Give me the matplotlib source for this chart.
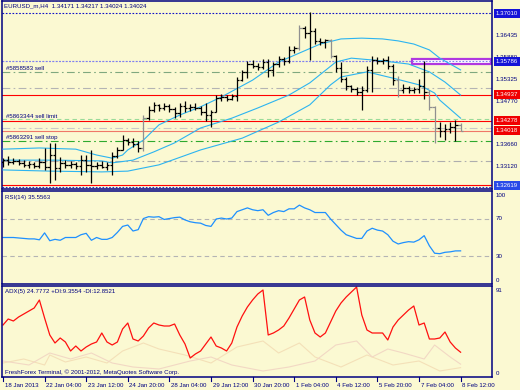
import matplotlib
matplotlib.use('Agg')
import matplotlib.pyplot as plt
from matplotlib.patches import Rectangle
import numpy as np

W, H = 520, 390
BG = '#FBF9D2'
NAVY = '#000080'
FONT = 'Liberation Sans'
FS = 4.4

title_text = "EURUSD_m,H4  1.34171 1.34217 1.34024 1.34024"

bar_open = [1.3322, 1.3327, 1.3322, 1.3325, 1.3320, 1.3315, 1.3317, 1.3312, 1.3322, 1.3310,
            1.3340, 1.3307, 1.3320, 1.3315, 1.3317, 1.3312, 1.3327, 1.3315, 1.3312, 1.3315,
            1.3310, 1.3315, 1.3338, 1.3353, 1.3378, 1.3373, 1.3368, 1.3358, 1.3434, 1.3455,
            1.3468, 1.3460, 1.3465, 1.3457, 1.3447, 1.3465, 1.3460, 1.3463, 1.3460, 1.3450,
            1.3442, 1.3450, 1.3485, 1.3488, 1.3483, 1.3491, 1.3531, 1.3552, 1.3572, 1.3567,
            1.3565, 1.3577, 1.3557, 1.3572, 1.3585, 1.3580, 1.3608, 1.3613, 1.3664, 1.3651,
            1.3656, 1.3631, 1.3628, 1.3633, 1.3593, 1.3562, 1.3534, 1.3516, 1.3508, 1.3501,
            1.3506, 1.3557, 1.3582, 1.3580, 1.3582, 1.3567, 1.3531, 1.3506, 1.3511, 1.3506,
            1.3508, 1.3516, 1.3501, 1.3463, 1.3409, 1.3401, 1.3406, 1.3412, 1.34171]
bar_high = [1.3332, 1.3338, 1.3332, 1.3330, 1.3327, 1.3325, 1.3322, 1.3332, 1.3358, 1.3371,
            1.3371, 1.3335, 1.3327, 1.3325, 1.3322, 1.3340, 1.3340, 1.3353, 1.3322, 1.3325,
            1.3322, 1.3348, 1.3361, 1.3391, 1.3383, 1.3383, 1.3376, 1.3442, 1.3465, 1.3475,
            1.3470, 1.3473, 1.3470, 1.3463, 1.3473, 1.3478, 1.3470, 1.3473, 1.3465, 1.3473,
            1.3455, 1.3493, 1.3496, 1.3493, 1.3496, 1.3539, 1.3557, 1.3580, 1.3582, 1.3575,
            1.3585, 1.3585, 1.3577, 1.3593, 1.3590, 1.3618, 1.3618, 1.3672, 1.3669, 1.3704,
            1.3664, 1.3638, 1.3636, 1.3636, 1.3595, 1.3577, 1.3539, 1.3519, 1.3514, 1.3516,
            1.3567, 1.3593, 1.3590, 1.3587, 1.3593, 1.3572, 1.3541, 1.3521, 1.3516, 1.3514,
            1.3534, 1.3580, 1.3506, 1.3465, 1.3424, 1.3419, 1.3424, 1.3429, 1.34217]
bar_low = [1.3310, 1.3315, 1.3317, 1.3315, 1.3310, 1.3307, 1.3307, 1.3307, 1.3302, 1.3269,
           1.3276, 1.3297, 1.3307, 1.3307, 1.3304, 1.3289, 1.3297, 1.3269, 1.3304, 1.3307,
           1.3302, 1.3289, 1.3332, 1.3353, 1.3366, 1.3361, 1.3348, 1.3350, 1.3429, 1.3450,
           1.3452, 1.3455, 1.3450, 1.3434, 1.3437, 1.3450, 1.3452, 1.3455, 1.3442, 1.3427,
           1.3412, 1.3450, 1.3478, 1.3478, 1.3480, 1.3478, 1.3529, 1.3536, 1.3562, 1.3557,
           1.3559, 1.3539, 1.3541, 1.3565, 1.3570, 1.3575, 1.3600, 1.3608, 1.3638, 1.3582,
           1.3623, 1.3621, 1.3613, 1.3587, 1.3552, 1.3526, 1.3506, 1.3501, 1.3493, 1.3455,
           1.3501, 1.3501, 1.3572, 1.3572, 1.3559, 1.3519, 1.3488, 1.3498, 1.3498, 1.3498,
           1.3498, 1.3483, 1.3455, 1.3371, 1.3386, 1.3378, 1.3396, 1.3376, 1.34024]
bar_close = [1.3327, 1.3322, 1.3325, 1.3320, 1.3315, 1.3317, 1.3312, 1.3322, 1.3310, 1.3340,
             1.3307, 1.3320, 1.3315, 1.3317, 1.3312, 1.3327, 1.3315, 1.3312, 1.3315, 1.3310,
             1.3315, 1.3338, 1.3353, 1.3378, 1.3373, 1.3368, 1.3358, 1.3434, 1.3455, 1.3468,
             1.3460, 1.3465, 1.3457, 1.3447, 1.3465, 1.3460, 1.3463, 1.3460, 1.3450, 1.3442,
             1.3450, 1.3485, 1.3488, 1.3483, 1.3491, 1.3531, 1.3552, 1.3572, 1.3567, 1.3565,
             1.3577, 1.3557, 1.3572, 1.3585, 1.3580, 1.3608, 1.3613, 1.3664, 1.3651, 1.3656,
             1.3631, 1.3628, 1.3633, 1.3593, 1.3562, 1.3534, 1.3516, 1.3508, 1.3501, 1.3506,
             1.3557, 1.3582, 1.3580, 1.3582, 1.3567, 1.3531, 1.3506, 1.3511, 1.3506, 1.3508,
             1.3516, 1.3501, 1.3463, 1.3409, 1.3401, 1.3406, 1.3412, 1.3417, 1.34024]
grey_bars = [27, 57, 63, 76, 82, 83, 88]

# band lines (vertices at bar index)
upper_idx = [0, 7, 14, 18, 21, 23, 24, 27, 30, 34, 38, 42, 48, 53, 57, 61, 65, 69, 73, 76, 79, 82, 84, 88]
upper_val = [1.3355, 1.3358, 1.3355, 1.3340, 1.3332, 1.3340, 1.3353, 1.3378, 1.3417, 1.3442, 1.3463, 1.3488,
             1.3531, 1.3577, 1.3600, 1.3623, 1.3636, 1.3638, 1.3636, 1.3631, 1.3623, 1.3608, 1.3587, 1.3557]
middle_idx = [0, 10, 19, 21, 25, 29, 33, 38, 44, 49, 55, 59, 64, 67, 73, 78, 82, 85, 88]
middle_val = [1.3327, 1.3327, 1.3325, 1.3320, 1.3327, 1.3348, 1.3371, 1.3409, 1.3434, 1.3460, 1.3493, 1.3524,
              1.3577, 1.3587, 1.3580, 1.3572, 1.3552, 1.3526, 1.3493]
lower_idx = [0, 9, 19, 24, 30, 38, 46, 53, 59, 63, 65, 70, 75, 80, 83, 84, 88]
lower_val = [1.3302, 1.3299, 1.3297, 1.3299, 1.3315, 1.3353, 1.3383, 1.3424, 1.3468, 1.3519, 1.3539, 1.3552,
             1.3536, 1.3519, 1.3498, 1.3480, 1.3434]

# horizontal order / level lines
level_prices = [1.37010, 1.35786, 1.35517, 1.35109, 1.34937, 1.34319, 1.34278, 1.34090, 1.34018,
                1.33758, 1.33248, 1.32630, 1.32580]
level_colors = ['#1010C8', '#8080F0', '#7FA87F', '#B4B4B4', '#FF0000', '#9ADB9A', '#FF0000', '#C8C8C8',
                '#F07868', '#2EAA2E', '#AEAEAE', '#FF0000', '#2030D0']
level_styles = [(0, (1.5, 1.5)), (0, (1.5, 1.5)), (0, (7, 3, 1.5, 3)), (0, (7, 3, 1.5, 3)), '-',
                (0, (4, 3)), '-', (0, (7, 3, 1.5, 3)), '-', (0, (7, 3, 1.5, 3)), (0, (7, 3, 1.5, 3)),
                '-', (0, (1.5, 1.5))]
order_labels = ["#5858583 sell", "#5863344 sell limit", "#5863291 sell stop"]
order_label_px = [(6, 68), (6, 116), (6, 137)]

rect_start = 78.65
rect_bottom, rect_top = 1.35721, 1.35848

price_ticks = [1.36435, 1.35880, 1.35325, 1.34770, 1.33660, 1.33120]
box_prices = [1.37010, 1.35786, 1.34937, 1.34278, 1.34018, 1.32619]
box_colors = ['#1414D8', '#1414D8', '#F00000', '#F00000', '#F00000', '#2A4BE8']

rsi_label = "RSI(14) 35.5563"
rsi_vals = [50, 50, 50, 49.5, 49, 48.5, 48.5, 47.5, 55, 46.5,
            48, 47, 50, 50, 50, 53, 54.5, 47, 50, 48,
            48, 50, 55.5, 62, 63.5, 57, 58.5, 70.5, 72.5, 72,
            72.5, 69.5, 70.5, 71.5, 72, 69, 67, 66, 65.5, 63,
            62, 70, 71, 70, 71, 78, 80, 82, 80, 79,
            80, 74, 77, 79, 78, 81, 81, 85, 82, 80,
            77, 77, 77, 70, 64, 58, 53, 51, 49, 49,
            57, 60, 58, 57, 53, 46, 43, 44.5, 45.5, 45,
            47.5, 52, 41, 33, 32.5, 34, 34.5, 35.5, 35.56]
rsi_levels = [70, 30]
rsi_axis_labels = ["100", "70", "30", "0"]
rsi_axis_pos = [95.5, 70, 30, 4.0]

adx_label = "ADX(5) 24.7772 +DI:9.3554 -DI:12.8521"
adx_vals = [52, 58, 56, 60, 63, 66, 69, 77, 59, 42,
            34, 39, 35, 26, 31, 26, 30, 33, 35, 44,
            35, 32, 35, 48, 54, 38, 36, 41, 49, 54,
            52, 51, 51, 53, 42, 33, 19, 23, 26, 33,
            40, 31, 29, 26, 34, 50, 61, 70, 77, 83,
            87, 42, 44, 47, 51, 59, 68, 77, 80, 57,
            44, 40, 44, 55, 66, 74, 80, 85, 90, 62,
            47, 44, 44, 44, 37, 50, 57, 62, 67, 71,
            52, 54, 38, 38, 39, 45, 35, 29, 24.78]
di_plus_idx = [0, 4, 8, 9, 12, 16, 20, 23, 27, 30, 35, 40, 45, 50, 53, 57, 60, 65, 70, 75, 80, 84, 88]
di_plus_val = [14, 18, 12, 22, 15, 20, 14, 26, 34, 28, 22, 14, 30, 36, 24, 34, 20, 10, 22, 12, 16, 6, 9.36]
di_minus_idx = [0, 5, 9, 13, 17, 21, 25, 30, 36, 40, 44, 50, 55, 60, 64, 68, 71, 74, 77, 81, 83, 86, 88]
di_minus_val = [16, 12, 24, 18, 24, 14, 10, 8, 16, 20, 12, 6, 10, 16, 32, 36, 20, 28, 24, 18, 32, 20, 12.85]
adx_axis_labels = ["91", "0"]
adx_axis_pos = [87, 3.5]
copyright_text = "FreshForex Terminal, \u00a9 2001-2012, MetaQuotes Software Corp."

tick_idx = [0, 8, 16, 24, 32, 40, 48, 56, 64, 72, 80, 88]
date_labels = ["18 Jan 2013", "22 Jan 04:00", "23 Jan 12:00", "24 Jan 20:00", "28 Jan 04:00",
               "29 Jan 12:00", "30 Jan 20:00", "1 Feb 04:00", "4 Feb 12:00", "5 Feb 20:00",
               "7 Feb 04:00", "8 Feb 12:00"]

# ---------------------------------------------------------------
plt.rcParams['font.family'] = [FONT, 'DejaVu Sans']
fig = plt.figure(figsize=(W / 100, H / 100), dpi=100)
fig.patch.set_facecolor(BG)


def rect(x0, y0, x1, y1):
    return [x0 / W, 1 - y1 / H, (x1 - x0) / W, (y1 - y0) / H]


def ftext(x, y, s, **kw):
    fig.text(x / W, 1 - y / H, s, fontsize=FS, color=NAVY, va='center', ha='left', **kw)


ax = fig.add_axes(rect(2, 1, 492, 189))
ax_rsi = fig.add_axes(rect(2, 191.25, 492, 283.75))
ax_adx = fig.add_axes(rect(2, 286, 492, 377))
XL = (-0.19, 94.04)
for a in (ax, ax_rsi, ax_adx):
    a.set_facecolor(BG)
    a.set_xlim(*XL)
    a.set_xticks([])
    a.set_yticks([])
    for s in a.spines.values():
        s.set_color(NAVY)
        s.set_linewidth(1.1)

ax.set_ylim(1.32534, 1.37327)

# level lines
for p, c, ls in zip(level_prices, level_colors, level_styles):
    ax.axhline(p, color=c, ls=ls, lw=0.8, zorder=1)

ax.add_patch(Rectangle((rect_start, rect_bottom), XL[1] - 0.2 - rect_start, rect_top - rect_bottom,
                       fc='white', ec='#B038E0', lw=1.6, zorder=2))
ax.axhline(level_prices[1], color=level_colors[1], ls=level_styles[1], lw=0.8, zorder=2.5)

# bands
band_color = '#2CB4F0'
ax.plot(upper_idx, upper_val, color=band_color, lw=0.8, zorder=3)
ax.plot(middle_idx, middle_val, color=band_color, lw=0.8, zorder=3)
ax.plot(lower_idx, lower_val, color=band_color, lw=0.8, zorder=3)

# bars
idx = np.arange(len(bar_close))
cols = ['#909090' if i in grey_bars else '#000000' for i in idx]
ax.vlines(idx, bar_low, bar_high, colors=cols, lw=0.9, zorder=4)
ax.hlines(bar_open, idx - 0.45, idx, colors=cols, lw=0.9, zorder=4)
ax.hlines(bar_close, idx, idx + 0.45, colors=cols, lw=0.9, zorder=4)

# right price axis
tr = ax.get_yaxis_transform()
for p in price_ticks:
    ax.text(1.0075, p, f"{p:.5f}", transform=tr, fontsize=FS, color=NAVY, va='center', ha='left',
            clip_on=False, zorder=5)
for p, c in zip(box_prices, box_colors):
    ax.text(1.0075, p, f"{p:.5f}", transform=tr, fontsize=FS, color='white', va='center', ha='left',
            clip_on=False, zorder=6,
            bbox=dict(boxstyle='square,pad=0.32', fc=c, ec='none'))

ftext(4, 6, title_text)
for s, (x, y) in zip(order_labels, order_label_px):
    ftext(x, y, s)

# RSI
ax_rsi.set_ylim(0, 100)
for lv in rsi_levels:
    ax_rsi.axhline(lv, color='#B4B4B4', ls=(0, (4, 3)), lw=0.8)
ax_rsi.plot(idx, rsi_vals, color='#1E90FF', lw=0.9)
trr = ax_rsi.get_yaxis_transform()
for s, v in zip(rsi_axis_labels, rsi_axis_pos):
    ax_rsi.text(1.0075, v, s, transform=trr, fontsize=FS, color=NAVY, va='center', ha='left', clip_on=False)
ftext(5, 197, rsi_label)

# ADX
ax_adx.set_ylim(0, 91)
ax_adx.plot(di_plus_idx, di_plus_val, color='#F4E0B8', lw=0.8)
ax_adx.plot(di_minus_idx, di_minus_val, color='#F2D8C4', lw=0.8)
ax_adx.plot(idx, adx_vals, color='#FF1010', lw=0.9)
tra = ax_adx.get_yaxis_transform()
for s, v in zip(adx_axis_labels, adx_axis_pos):
    ax_adx.text(1.0075, v, s, transform=tra, fontsize=FS, color=NAVY, va='center', ha='left', clip_on=False)
ftext(5, 292, adx_label)
ftext(5, 372, copyright_text)

# date axis
trx = ax_adx.get_xaxis_transform()
for i, lab in zip(tick_idx, date_labels):
    ax_adx.plot([i, i], [0, -0.045], transform=trx, color=NAVY, lw=0.8, clip_on=False)
    ax_adx.text(i + 0.3, -0.092, lab, transform=trx, fontsize=FS, color=NAVY, va='center', ha='left',
                clip_on=False)

fig.savefig('out.png', dpi=100, facecolor=BG)
